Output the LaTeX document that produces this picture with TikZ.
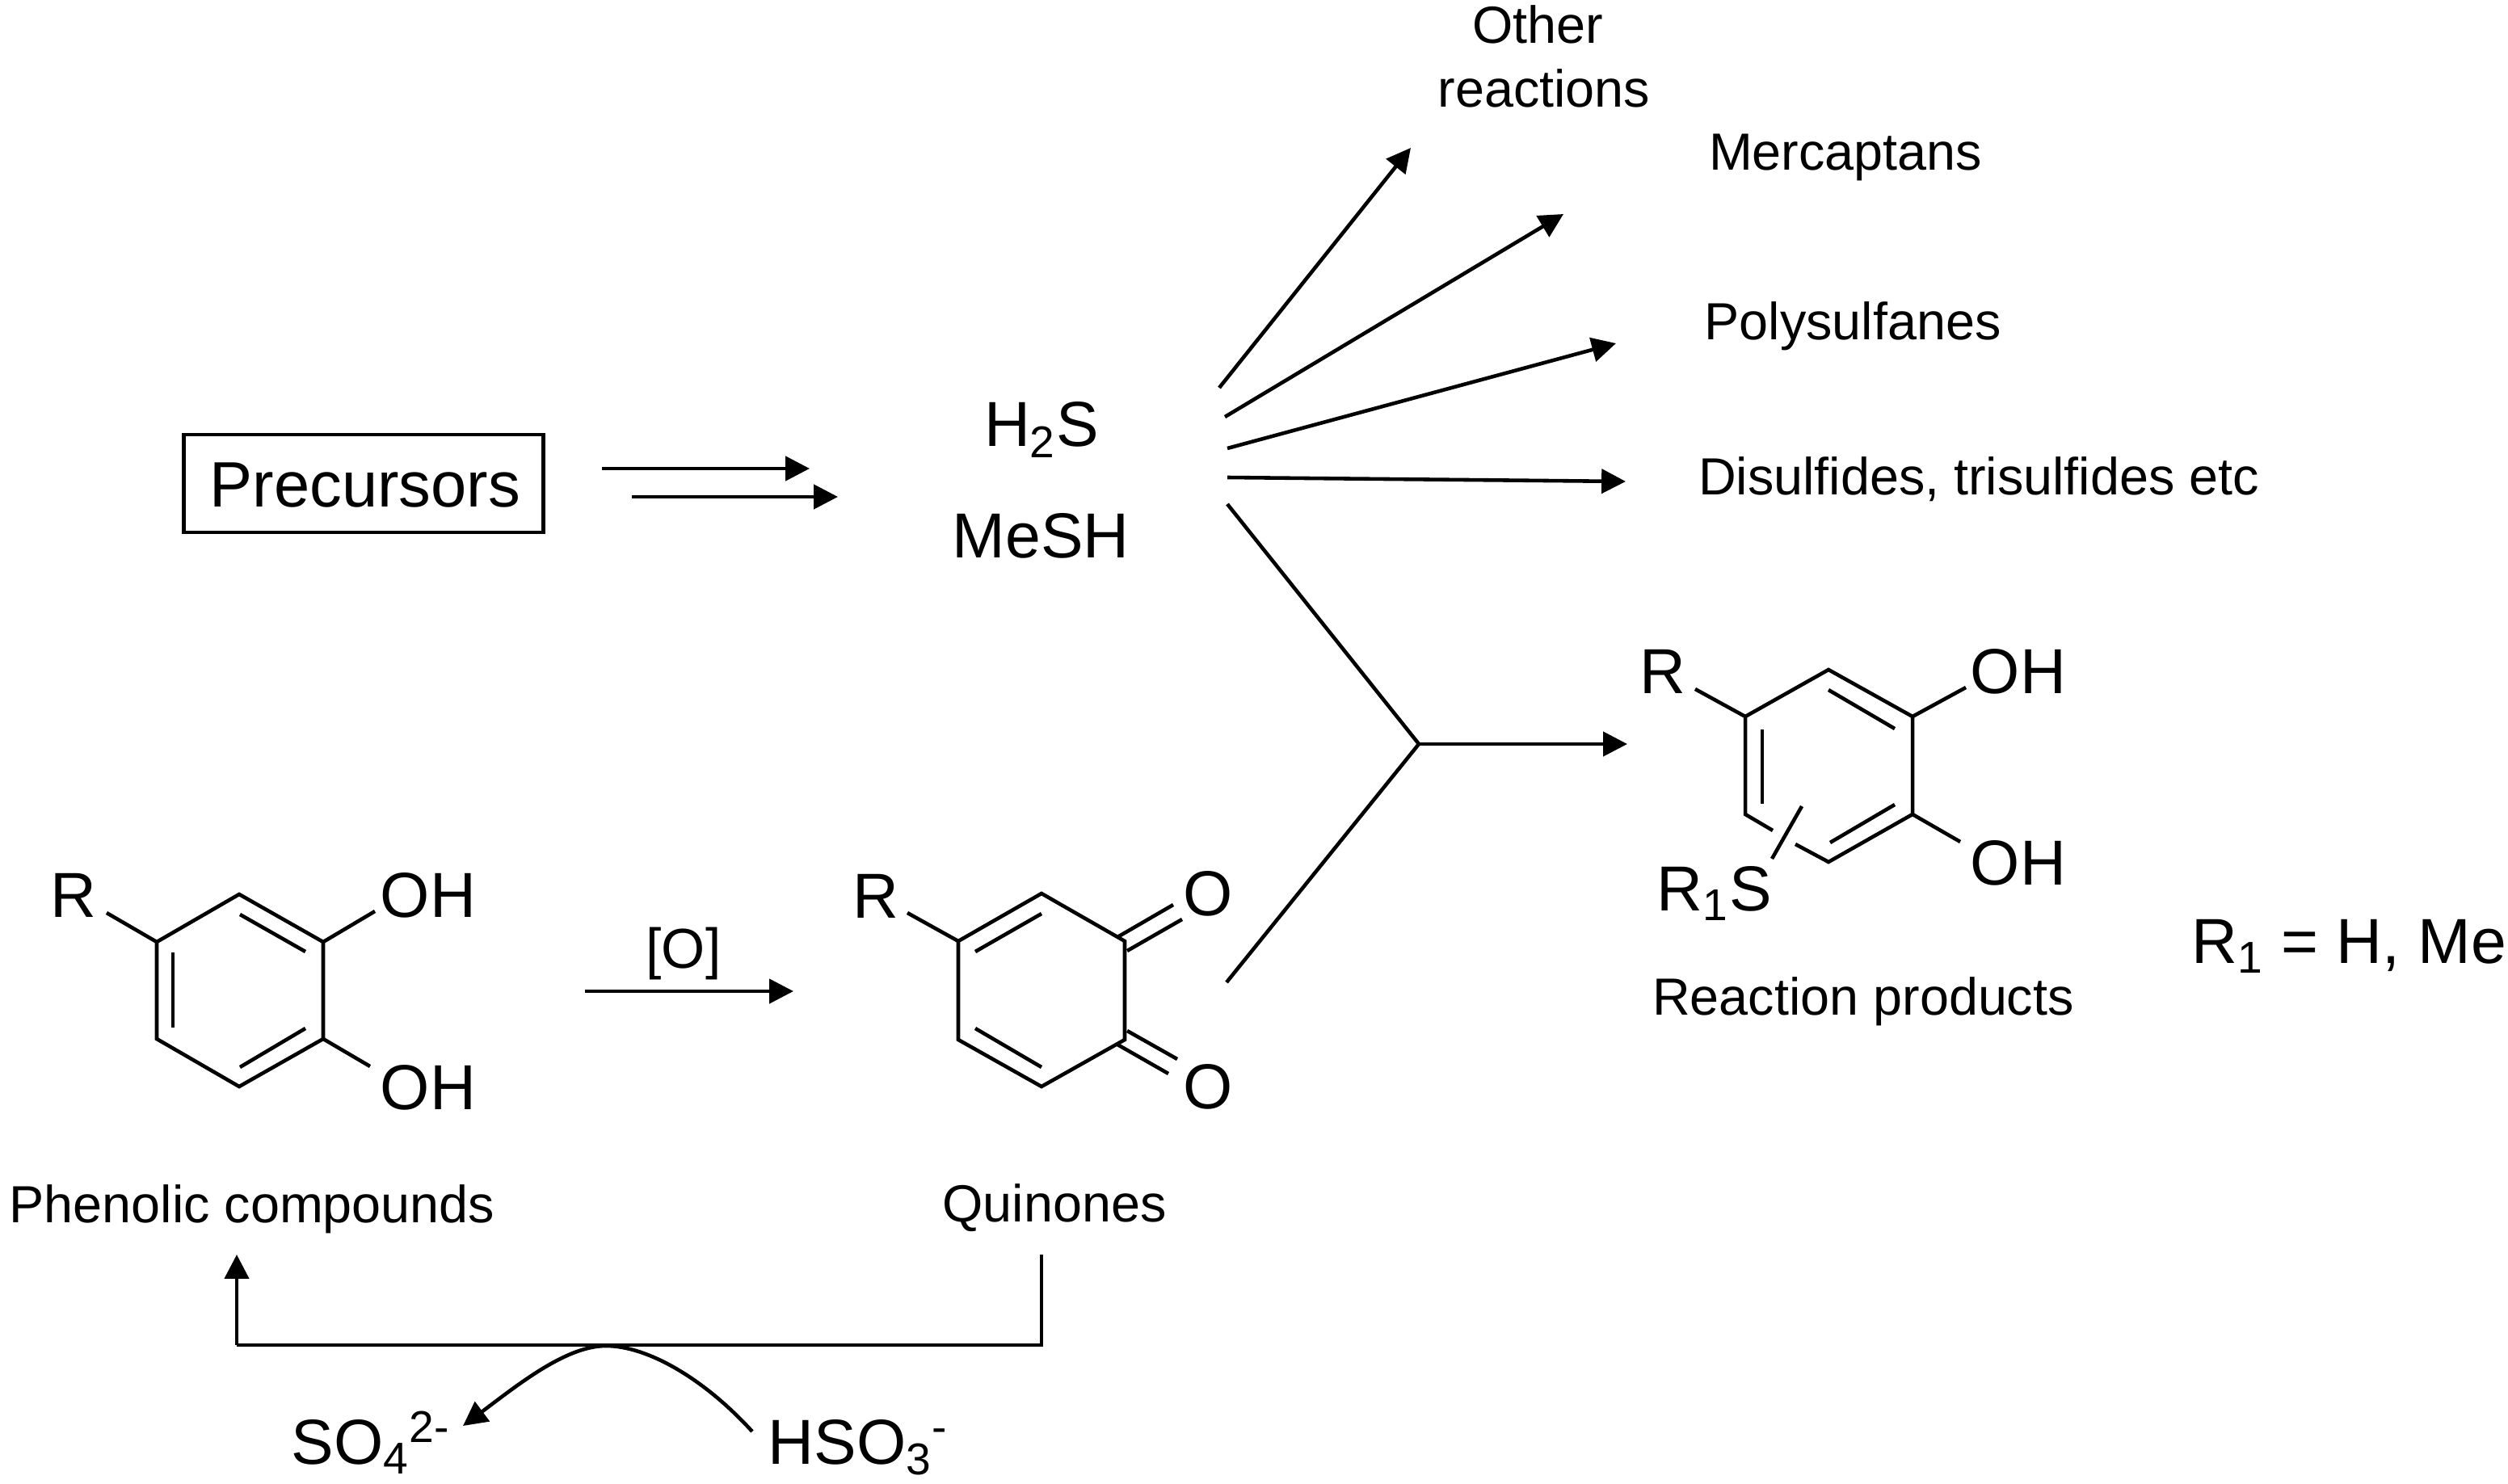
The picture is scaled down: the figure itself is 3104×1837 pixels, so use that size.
\documentclass[tikz,border=0pt]{standalone}
\usepackage{fontspec}
\setmainfont{Liberation Sans}
\usetikzlibrary{arrows.meta}
\tikzstyle{bigText}=[inner sep=0pt, anchor=base, font=\fontsize{22.4}{26}\selectfont]
\tikzstyle{smallText}=[inner sep=0pt, anchor=base, font=\fontsize{18.4}{22}\selectfont]
\tikzstyle{boxNode}=[draw, line width=1.3pt, minimum width=126.5pt, minimum height=34.5pt, inner sep=0pt]
\tikzstyle{bond}=[line width=1.3pt, line join=miter]
\tikzstyle{reactArrow}=[-{Triangle[length=8.5pt,width=8.5pt]}, line width=1.3pt]

\begin{document}
\begin{tikzpicture}[x=0.01cm, y=-0.01cm]
    \useasboundingbox (0,0) rectangle (3104,1837);

    % Precursors and sulfur compounds
    \node[boxNode] (precBox) at (450,598.5) {};
    \node[bigText, font=\fontsize{22.6}{26}\selectfont] (precText) at (452,627) {Precursors};
    \node[bigText] (h2s) at (1289,553) {H\textsubscript{2}S};
    \node[bigText] (mesh) at (1288,690) {MeSH};
    \coordinate (arrA0) at (745,580);
    \coordinate (arrA1) at (1002,580);
    \coordinate (arrB0) at (782,615);
    \coordinate (arrB1) at (1037,615);
    \draw[reactArrow] (arrA0) -- (arrA1);
    \draw[reactArrow] (arrB0) -- (arrB1);

    % Fan of products
    \node[smallText] (other) at (1903,54) {Other};
    \node[smallText] (reactions) at (1911,133) {reactions};
    \node[smallText] (mercaptans) at (2284,211) {Mercaptans};
    \node[smallText] (polysulfanes) at (2293,421) {Polysulfanes};
    \node[smallText] (disulfides) at (2449,612) {Disulfides, trisulfides etc};
    \coordinate (fan1a) at (1509,480);
    \coordinate (fan1b) at (1746,183);
    \coordinate (fan2a) at (1516,516);
    \coordinate (fan2b) at (1935,265);
    \coordinate (fan3a) at (1519,555);
    \coordinate (fan3b) at (2000,425);
    \coordinate (fan4a) at (1519,591);
    \coordinate (fan4b) at (2012,596);
    \draw[reactArrow] (fan1a) -- (fan1b);
    \draw[reactArrow] (fan2a) -- (fan2b);
    \draw[reactArrow] (fan3a) -- (fan3b);
    \draw[reactArrow] (fan4a) -- (fan4b);

    % Junction
    \coordinate (joinA) at (1519,624);
    \coordinate (joinB) at (1518,1216);
    \coordinate (joinC) at (1756,921);
    \coordinate (joinD) at (2014,921);
    \draw[bond] (joinA) -- (joinC) -- (joinB);
    \draw[reactArrow] (joinC) -- (joinD);

    % Phenolic compound
    \coordinate (p1) at (296,1107);
    \coordinate (p2) at (400,1166);
    \coordinate (p3) at (400,1286);
    \coordinate (p4) at (296,1345);
    \coordinate (p5) at (194,1286);
    \coordinate (p6) at (194,1166);
    \coordinate (pin1) at (297,1132);
    \coordinate (pin2) at (378,1178);
    \coordinate (pin3) at (378,1273);
    \coordinate (pin4) at (297,1321);
    \coordinate (pin5) at (214,1272);
    \coordinate (pin6) at (214,1179);
    \coordinate (pR) at (132,1130);
    \coordinate (pOHa) at (464,1128);
    \coordinate (pOHb) at (458,1320);
    \draw[bond] (p1) -- (p2) -- (p3) -- (p4) -- (p5) -- (p6) -- cycle;
    \draw[bond] (pin1) -- (pin2);
    \draw[bond] (pin3) -- (pin4);
    \draw[bond] (pin5) -- (pin6);
    \draw[bond] (p6) -- (pR);
    \draw[bond] (p2) -- (pOHa);
    \draw[bond] (p3) -- (pOHb);
    \node[bigText] (pRtext) at (91,1135) {R};
    \node[bigText] (pOHtextA) at (530,1135) {OH};
    \node[bigText] (pOHtextB) at (530,1373) {OH};
    \node[smallText] (phenolic) at (312,1513) {Phenolic compounds};

    % Oxidation
    \coordinate (oxA) at (724,1227);
    \coordinate (oxB) at (982,1227);
    \draw[reactArrow] (oxA) -- (oxB);
    \node[inner sep=0pt, anchor=base, font=\fontsize{19.8}{24}\selectfont] (oxText) at (846,1198) {[O]};

    % Quinone
    \coordinate (q1) at (1289,1106);
    \coordinate (q2) at (1392,1165);
    \coordinate (q3) at (1392,1287);
    \coordinate (q4) at (1289,1345);
    \coordinate (q5) at (1186,1287);
    \coordinate (q6) at (1186,1165);
    \coordinate (qin1) at (1207,1178);
    \coordinate (qin2) at (1289,1131);
    \coordinate (qin3) at (1207,1273);
    \coordinate (qin4) at (1289,1321);
    \coordinate (qR) at (1123,1130);
    \coordinate (qOa1) at (1383,1160);
    \coordinate (qOa2) at (1452,1120);
    \coordinate (qOa3) at (1395,1177);
    \coordinate (qOa4) at (1463,1138);
    \coordinate (qOb1) at (1395,1276);
    \coordinate (qOb2) at (1457,1311);
    \coordinate (qOb3) at (1383,1293);
    \coordinate (qOb4) at (1446,1329);
    \draw[bond] (q1) -- (q2) -- (q3) -- (q4) -- (q5) -- (q6) -- cycle;
    \draw[bond] (qin1) -- (qin2);
    \draw[bond] (qin3) -- (qin4);
    \draw[bond] (q6) -- (qR);
    \draw[bond] (qOa1) -- (qOa2);
    \draw[bond] (qOa3) -- (qOa4);
    \draw[bond] (qOb1) -- (qOb2);
    \draw[bond] (qOb3) -- (qOb4);
    \node[bigText] (qRtext) at (1084,1136) {R};
    \node[bigText] (qOtextA) at (1495,1133) {O};
    \node[bigText] (qOtextB) at (1495,1372) {O};
    \node[smallText] (quinones) at (1305,1512) {Quinones};

    % Reaction product
    \coordinate (s1) at (2263,829);
    \coordinate (s2) at (2367,887);
    \coordinate (s3) at (2367,1008);
    \coordinate (s4) at (2263,1067);
    \coordinate (s4b) at (2222,1045);
    \coordinate (s5b) at (2194,1028);
    \coordinate (s5) at (2160,1008);
    \coordinate (s6) at (2160,887);
    \coordinate (sin1) at (2263,854);
    \coordinate (sin2) at (2345,902);
    \coordinate (sin3) at (2345,996);
    \coordinate (sin4) at (2265,1043);
    \coordinate (sin5) at (2181,903);
    \coordinate (sin6) at (2181,995);
    \coordinate (sSa) at (2230,998);
    \coordinate (sSb) at (2193,1063);
    \coordinate (sR) at (2098,853);
    \coordinate (sOHa) at (2433,851);
    \coordinate (sOHb) at (2426,1042);
    \draw[bond] (s5b) -- (s5) -- (s6) -- (s1) -- (s2) -- (s3) -- (s4) -- (s4b);
    \draw[bond] (sin1) -- (sin2);
    \draw[bond] (sin3) -- (sin4);
    \draw[bond] (sin5) -- (sin6);
    \draw[bond] (sSa) -- (sSb);
    \draw[bond] (s6) -- (sR);
    \draw[bond] (s2) -- (sOHa);
    \draw[bond] (s3) -- (sOHb);
    \node[bigText] (sRtext) at (2058,858) {R};
    \node[bigText] (sOHtextA) at (2498,858) {OH};
    \node[bigText] (sOHtextB) at (2498,1095) {OH};
    \node[bigText, anchor=base west] (sR1S) at (2050,1127) {R\textsubscript{1}S};
    \node[smallText] (products) at (2306,1256) {Reaction products};
    \node[bigText, anchor=base west] (r1def) at (2712,1192) {R\textsubscript{1} = H, Me};

    % Sulfite loop
    \coordinate (loopA) at (1289,1553);
    \coordinate (loopB) at (1289,1665);
    \coordinate (loopC) at (293,1665);
    \coordinate (loopD) at (293,1553);
    \draw[bond] (loopA) -- (loopB) -- (loopC);
    \draw[reactArrow] (loopC) -- (loopD);
    \coordinate (sulfA) at (931,1772);
    \coordinate (sulfB) at (750,1666);
    \coordinate (sulfC) at (573,1765);
    \draw[reactArrow] (sulfA) .. controls (870,1705) and (800,1666) .. (sulfB) .. controls (700,1666) and (640,1715) .. (sulfC);
    \node[bigText, anchor=base west] (so4) at (360,1812) {SO\textsubscript{4}\textsuperscript{2-}};
    \node[bigText, anchor=base west] (hso3) at (950,1812) {HSO\textsubscript{3}\textsuperscript{-}};

\end{tikzpicture}
\end{document}
